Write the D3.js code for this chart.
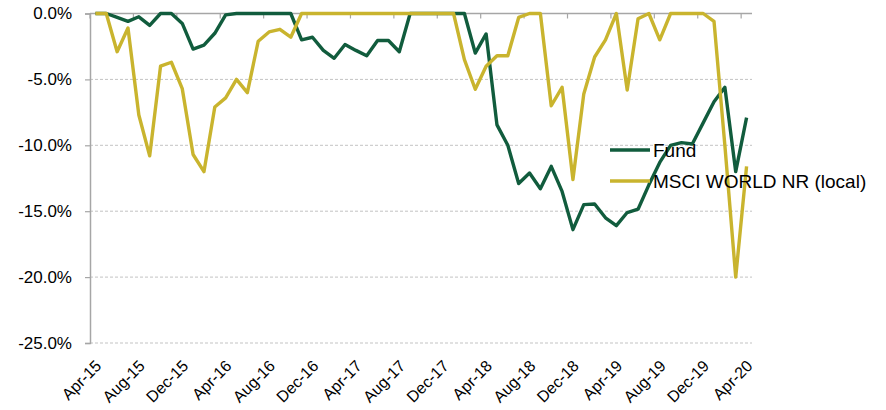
<!DOCTYPE html>
<html>
<head>
<meta charset="utf-8">
<script src="https://cdn.jsdelivr.net/npm/d3@7"></script>
<style>
  body { margin: 0; background: #fff; }
  text { font-family: "Liberation Sans", Arial, sans-serif; fill: #000; }
</style>
</head>
<body>
<div id="chart"></div>
<script>
// Monthly drawdown (%), Apr-15 .. Apr-20
const months = d3.timeMonth.range(new Date(2015, 3, 1), new Date(2020, 4, 1));

const fund = [
    0, 0, -0.3, -0.6, -0.25, -0.9, 0, 0, -0.75, -2.7,
    -2.4, -1.5, -0.1, 0, 0, 0, 0, 0, 0, -2.0,
    -1.8, -2.8, -3.4, -2.35, -2.8, -3.2, -2.05, -2.05, -2.9, 0,
    0, 0, 0, 0, 0, -3.0, -1.55, -8.45, -10.0, -12.9,
    -12.1, -13.3, -11.6, -13.5, -16.4, -14.5, -14.45, -15.5, -16.1, -15.1,
    -14.85, -13.0, -11.3, -10.0, -9.8, -9.9, -8.3, -6.7, -5.6, -12.0,
    -7.9
];

const msci = [
    0, 0, -2.9, -1.1, -7.7, -10.8, -4.0, -3.7, -5.7, -10.7,
    -12.0, -7.1, -6.4, -5.0, -6.0, -2.1, -1.4, -1.2, -1.8, 0,
    0, 0, 0, 0, 0, 0, 0, 0, 0, 0,
    0, 0, 0, 0, -3.5, -5.75, -4.0, -3.2, -3.2, -0.3,
    0, 0, -7.0, -5.6, -12.6, -6.1, -3.3, -2.0, 0, -5.8,
    -0.4, 0, -2.0, 0, 0, 0, 0, -0.6, -10.0, -20.0,
    -11.6
];

const xTickLabels = ["Apr-15", "Aug-15", "Dec-15", "Apr-16", "Aug-16", "Dec-16", "Apr-17", "Aug-17",
    "Dec-17", "Apr-18", "Aug-18", "Dec-18", "Apr-19", "Aug-19", "Dec-19", "Apr-20"];
const yTicks = [0, -5, -10, -15, -20, -25];

const seriesNames = ["Fund", "MSCI WORLD NR (local)"];
const seriesColors = ["#115c3d", "#c9b42e"];

// Layout
const width = 886, height = 410;
const plot = {left: 90, right: 752, top: 13.5, bottom: 343};

const svg = d3.select("#chart")
    .append("svg")
    .attr("width", width)
    .attr("height", height);

const x = d3.scaleBand()
    .domain(d3.range(months.length))
    .range([plot.left, plot.right])
    .padding(0);
const xc = i => x(i) + x.bandwidth() / 2;

const y = d3.scaleLinear()
    .domain([-25, 0])
    .range([plot.bottom, plot.top]);

// Gridlines
svg.append("g")
    .selectAll("line")
    .data(yTicks.filter(d => d !== 0))
    .enter()
    .append("line")
    .attr("x1", plot.left)
    .attr("x2", plot.right)
    .attr("y1", d => y(d))
    .attr("y2", d => y(d))
    .style("stroke", "#c3c3c3")
    .style("stroke-width", 1)
    .style("stroke-dasharray", "3,2");

// Y axis
const yAxis = d3.axisLeft(y)
    .tickValues(yTicks)
    .tickSize(5)
    .tickPadding(13)
    .tickFormat(d => d.toFixed(1) + "%");

const gy = svg.append("g")
    .attr("transform", `translate(${plot.left},0)`)
    .call(yAxis);
gy.select(".domain").style("stroke", "#a6a6a6").style("stroke-width", 1.5);
gy.selectAll(".tick line").style("stroke", "#a6a6a6").style("stroke-width", 1.2);
gy.selectAll(".tick text")
    .style("font-size", "17px")
    .attr("font-family", null);

// X axis line at 0% with tick marks between categories
const tickIdx = d3.range(0, months.length, 4);
const gx = svg.append("g");
gx.append("line")
    .attr("x1", plot.left)
    .attr("x2", plot.right)
    .attr("y1", y(0))
    .attr("y2", y(0))
    .style("stroke", "#a6a6a6")
    .style("stroke-width", 1.5);
gx.selectAll(".xtick")
    .data(tickIdx)
    .enter()
    .append("line")
    .attr("class", "xtick")
    .attr("x1", d => x(d))
    .attr("x2", d => x(d))
    .attr("y1", y(0))
    .attr("y2", y(0) + 5)
    .style("stroke", "#a6a6a6")
    .style("stroke-width", 1.2);

// X labels at the bottom, rotated
svg.append("g")
    .selectAll("text")
    .data(tickIdx)
    .enter()
    .append("text")
    .attr("transform", d => `translate(${xc(d) + 3},${plot.bottom + 20}) rotate(-45)`)
    .attr("text-anchor", "end")
    .attr("dy", "0.35em")
    .style("font-size", "16px")
    .text((d, i) => xTickLabels[i]);

// Lines
const line = d3.line()
    .x((d, i) => xc(i))
    .y(d => y(d));

[fund, msci].forEach((s, k) => {
    svg.append("path")
        .datum(s)
        .attr("d", line)
        .style("fill", "none")
        .style("stroke", seriesColors[k])
        .style("stroke-width", 3.4)
        .style("stroke-linejoin", "round");
});

// Legend
const legend = svg.append("g")
    .attr("transform", "translate(610,150)");
seriesNames.forEach((name, k) => {
    const g = legend.append("g").attr("transform", `translate(0,${k * 31})`);
    g.append("line")
        .attr("x1", 0)
        .attr("x2", 40)
        .style("stroke", seriesColors[k])
        .style("stroke-width", 3.5);
    g.append("text")
        .attr("x", 43)
        .attr("dy", "0.35em")
        .style("font-size", "19px")
        .text(name);
});
</script>
</body>
</html>
